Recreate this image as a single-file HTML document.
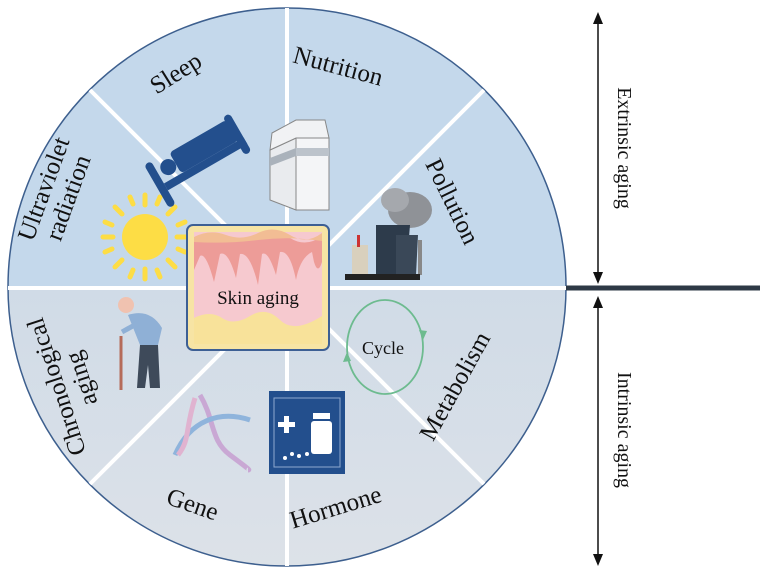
<!DOCTYPE html>
<html><head><meta charset="utf-8"><style>
html,body{margin:0;padding:0;background:#fff;}
svg{display:block;}
text{font-family:"Liberation Serif",serif;fill:#111;}
</style></head><body>
<svg width="768" height="573" viewBox="0 0 768 573" xmlns="http://www.w3.org/2000/svg">
<defs>
<linearGradient id="bot" x1="0" y1="0" x2="0" y2="1">
<stop offset="0" stop-color="#d0dbe7"/><stop offset="1" stop-color="#dde2e8"/>
</linearGradient>
<clipPath id="cc"><circle cx="287" cy="287" r="279"/></clipPath>
</defs>
<g clip-path="url(#cc)">
<rect x="0" y="0" width="580" height="288" fill="#c4d8eb"/>
<rect x="0" y="288" width="580" height="290" fill="url(#bot)"/>
</g>
<circle cx="287" cy="287" r="279" fill="none" stroke="#3d5f8e" stroke-width="1.5"/>
<g stroke="#fff" stroke-width="4">
<line x1="287" y1="8" x2="287" y2="566"/>
<line x1="8" y1="288" x2="566" y2="288"/>
<line x1="90" y1="90" x2="484" y2="484"/>
<line x1="484" y1="90" x2="90" y2="484"/>
</g>
<!-- right side -->
<line x1="566" y1="288" x2="760" y2="288" stroke="#2e3946" stroke-width="5"/>
<line x1="598" y1="20" x2="598" y2="278" stroke="#111" stroke-width="1.5"/>
<polygon points="598,12 593,24 603,24" fill="#111"/>
<polygon points="598,284 593,272 603,272" fill="#111"/>
<line x1="598" y1="302" x2="598" y2="558" stroke="#111" stroke-width="1.5"/>
<polygon points="598,296 593,308 603,308" fill="#111"/>
<polygon points="598,566 593,554 603,554" fill="#111"/>
<text transform="translate(618,148) rotate(90)" font-size="20" text-anchor="middle">Extrinsic aging</text>
<text transform="translate(618,430) rotate(90)" font-size="20" text-anchor="middle">Intrinsic aging</text>

<!-- labels -->
<text transform="translate(180,80) rotate(-32)" font-size="25" text-anchor="middle">Sleep</text>
<text transform="translate(336,74) rotate(15)" font-size="25" text-anchor="middle">Nutrition</text>
<text transform="translate(445,205) rotate(64)" font-size="25" text-anchor="middle">Pollution</text>
<g transform="translate(55,193) rotate(-70)" font-size="25">
<text x="0" y="-4" text-anchor="middle">Ultraviolet</text>
<text x="0" y="22" text-anchor="middle">radiation</text>
</g>
<g transform="translate(68,383) rotate(-108)" font-size="25">
<text x="0" y="-4" text-anchor="middle">Chronological</text>
<text x="0" y="22" text-anchor="middle">aging</text>
</g>
<text transform="translate(190,512) rotate(19)" font-size="25" text-anchor="middle">Gene</text>
<text transform="translate(338,515) rotate(-17)" font-size="25" text-anchor="middle">Hormone</text>
<text transform="translate(462,390) rotate(-61)" font-size="25" text-anchor="middle">Metabolism</text>

<!-- sun -->
<g transform="translate(145,237)">
<circle r="23" fill="#fddd45"/>
<g stroke="#fddd45" stroke-width="5" stroke-linecap="round">
<line x1="0" y1="-32" x2="0" y2="-42"/><line x1="0" y1="32" x2="0" y2="42"/>
<line x1="-32" y1="0" x2="-42" y2="0"/><line x1="32" y1="0" x2="42" y2="0"/>
<line x1="23" y1="-23" x2="30" y2="-30"/><line x1="-23" y1="-23" x2="-30" y2="-30"/>
<line x1="23" y1="23" x2="30" y2="30"/><line x1="-23" y1="23" x2="-30" y2="30"/>
<line x1="12" y1="-33" x2="15" y2="-40"/><line x1="-12" y1="-33" x2="-15" y2="-40"/>
<line x1="12" y1="33" x2="15" y2="40"/><line x1="-12" y1="33" x2="-15" y2="40"/>
<line x1="33" y1="-12" x2="40" y2="-15"/><line x1="-33" y1="-12" x2="-40" y2="-15"/>
<line x1="33" y1="12" x2="40" y2="15"/><line x1="-33" y1="12" x2="-40" y2="15"/>
</g></g>
<!-- bed -->
<g transform="translate(200,158) rotate(-30)" fill="#234f8d">
<rect x="-52" y="-22" width="8" height="50" rx="4"/>
<circle cx="-32" cy="-8" r="8"/>
<rect x="-24" y="-20" width="66" height="24" rx="4"/>
<rect x="-44" y="4" width="92" height="8"/>
<rect x="40" y="-24" width="8" height="44" rx="4"/>
</g>
<!-- milk -->
<g>
<polygon points="270,150 296,138 296,210 270,200" fill="#e9ebee" stroke="#888" stroke-width="1"/>
<polygon points="296,138 329,138 329,210 296,210" fill="#f4f5f7" stroke="#888" stroke-width="1"/>
<polygon points="272,133 296,120 325,120 329,138 296,138 270,150" fill="#f1f2f4" stroke="#888" stroke-width="1"/>
<rect x="296" y="148" width="33" height="8" fill="#bcc3cb"/>
<polygon points="270,158 296,148 296,156 270,166" fill="#aab2bb"/>
</g>
<!-- factory -->
<g>
<ellipse cx="410" cy="210" rx="22" ry="18" fill="#8f9297"/>
<ellipse cx="395" cy="200" rx="14" ry="12" fill="#a5a8ad"/>
<polygon points="376,225 410,225 406,275 376,275" fill="#2d3b4b"/>
<polygon points="396,235 418,235 416,275 396,275" fill="#3a4858"/>
<rect x="352" y="245" width="16" height="30" fill="#d9d0bd"/>
<rect x="357" y="235" width="3" height="12" fill="#c33"/>
<rect x="418" y="240" width="4" height="35" fill="#888"/>
<rect x="345" y="274" width="75" height="6" fill="#222"/>
</g>
<!-- old man -->
<g>
<circle cx="126" cy="305" r="8" fill="#f0c2b0"/>
<path d="M128,315 Q150,308 162,328 L158,345 L140,345 Z" fill="#8fb0d6"/>
<line x1="121" y1="336" x2="121" y2="390" stroke="#b56b5a" stroke-width="3"/>
<path d="M122,332 L140,322" stroke="#8fb0d6" stroke-width="5"/>
<path d="M140,345 L158,345 L160,388 L150,388 L148,365 L145,388 L137,388 Z" fill="#3e4a5a"/>
</g>
<!-- DNA -->
<g stroke-width="5" fill="none">
<path d="M200,395 C215,420 210,440 230,455 S250,470 248,470" stroke="#c9a8d4"/>
<path d="M175,455 C190,420 220,410 250,420" stroke="#8fb4dc"/>
<path d="M195,398 C185,430 190,440 178,455" stroke="#e0b3d0"/>
</g>
<!-- hormone -->
<rect x="269" y="391" width="76" height="83" fill="#234f8d"/>
<rect x="274" y="398" width="66" height="69" fill="none" stroke="#8fa9cf" stroke-width="1"/>
<rect x="284" y="416" width="5" height="17" fill="#fff"/><rect x="278" y="422" width="17" height="5" fill="#fff"/>
<rect x="313" y="413" width="17" height="6" fill="#fff"/><rect x="311" y="421" width="21" height="33" rx="3" fill="#fff"/>
<circle cx="285" cy="458" r="2" fill="#fff"/><circle cx="292" cy="454" r="2" fill="#fff"/><circle cx="299" cy="456" r="2" fill="#fff"/><circle cx="307" cy="454" r="2" fill="#fff"/>
<!-- cycle -->
<ellipse cx="385" cy="347" rx="38" ry="47" fill="none" stroke="#6dbb8f" stroke-width="1.8"/>
<polygon points="423,340 419,330 427,331" fill="#6dbb8f"/>
<polygon points="347,352 343,362 351,361" fill="#6dbb8f"/>
<text x="383" y="354" font-size="18" text-anchor="middle">Cycle</text>
<!-- skin box -->
<rect x="187" y="225" width="142" height="125" rx="6" fill="#f7e4a4" stroke="#3d5f94" stroke-width="2"/>
<rect x="194" y="232" width="128" height="112" fill="#f6c9cf"/>
<path d="M194,240 Q210,232 226,238 T258,236 T290,238 T322,236 L322,262 Q318,275 314,262 L312,252 Q300,258 296,280 Q290,250 280,252 L276,275 Q268,250 262,254 L258,285 Q250,252 240,254 L236,278 Q228,250 220,254 L214,282 Q206,252 200,256 L194,270 Z" fill="#ed9c98"/>
<path d="M194,237 Q210,229 226,235 T258,233 T290,235 T322,233 L322,241 Q290,236 258,240 T194,242 Z" fill="#f2bd94"/>
<path d="M194,318 Q210,310 222,318 T250,316 T280,320 T322,316 L322,344 L194,344 Z" fill="#f8e29a"/>
<text x="258" y="304" font-size="19" text-anchor="middle">Skin aging</text>
</svg>
</body></html>
